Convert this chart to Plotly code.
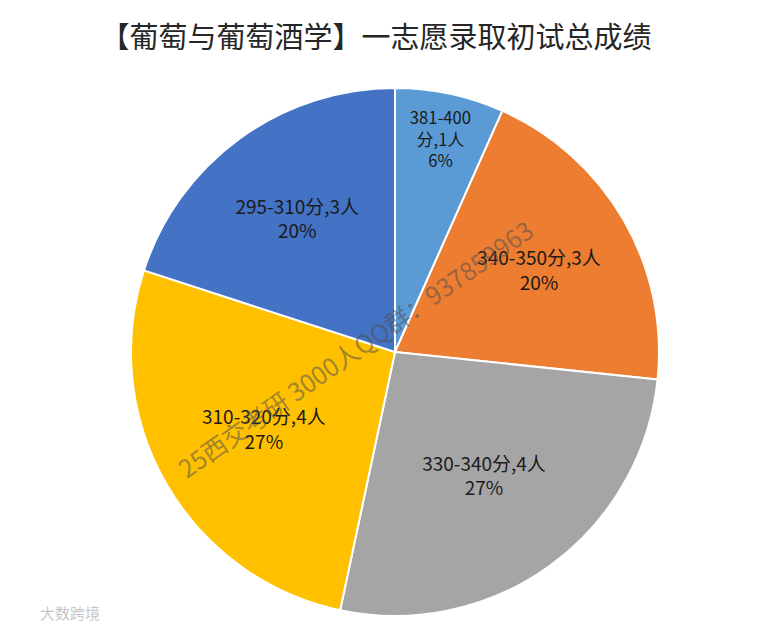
import plotly.graph_objects as go

categories = ["381-400分", "340-350分", "330-340分", "310-320分", "295-310分"]
counts = [1, 3, 4, 4, 3]
pct_labels = ["6%", "20%", "27%", "27%", "20%"]
colors = ["#5B9BD5", "#ED7D31", "#A5A5A5", "#FFC000", "#4472C4"]

texts = []
for c, n, p in zip(categories, counts, pct_labels):
    name = c.replace("381-400分", "381-400<br>分")
    texts.append(f"{name},{n}人<br>{p}")

# page body has an 8px margin; figure sized to fit inside the window
OFF = 8
W, H = 769 - 2 * OFF, 640 - 2 * OFF
ml, mr, mt, mb = 21, 0, 80, 16
pw, ph = W - ml - mr, H - mt - mb


def px(x):
    return (x - OFF - ml) / pw


def py(y):
    return (H - mb - (y - OFF)) / ph


fig = go.Figure(go.Pie(
    labels=categories,
    values=counts,
    text=texts,
    textinfo="text",
    textposition="inside",
    insidetextorientation="horizontal",
    sort=False,
    direction="clockwise",
    rotation=0,
    marker=dict(colors=colors, line=dict(color="white", width=2)),
    textfont=dict(family="Noto Sans CJK SC, sans-serif", size=19, color="#1a1a1a"),
    showlegend=False,
    hoverinfo="label+value+percent",
))

fig.update_layout(
    width=W, height=H,
    margin=dict(l=ml, r=mr, t=mt, b=mb),
    paper_bgcolor="white",
    plot_bgcolor="white",
    title=dict(text="【葡萄与葡萄酒学】一志愿录取初试总成绩",
               x=px(376), xanchor="center", y=1 - (38 - OFF) / H, yanchor="middle",
               xref="paper",
               font=dict(family="Noto Sans CJK SC, sans-serif", size=29, color="#262626")),
    annotations=[
        dict(text="25西交考研 3000人QQ群：937859963", x=px(355), y=py(348),
             xref="paper", yref="paper", showarrow=False, textangle=-35,
             font=dict(family="Noto Sans CJK SC, sans-serif", size=25, color="rgba(80,80,80,0.55)")),
        dict(text="大数跨境", x=px(38), y=py(625),
             xref="paper", yref="paper", showarrow=False, xanchor="left",
             font=dict(family="Noto Sans CJK SC, sans-serif", size=15, color="rgba(190,190,190,0.9)")),
    ],
)

fig.write_html("out.html")
